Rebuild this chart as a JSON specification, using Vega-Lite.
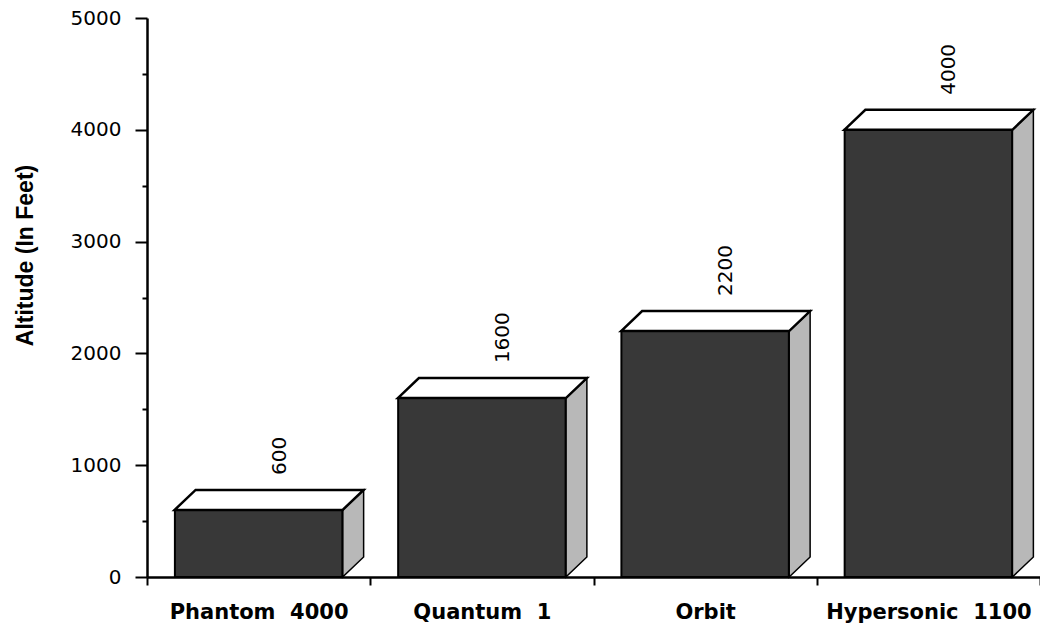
{
  "$schema": "https://vega.github.io/schema/vega-lite/v6.json",
  "width": 893,
  "height": 559,
  "autosize": {"type": "none"},
  "padding": {"left": 147, "top": 18, "right": 0, "bottom": 51},
  "background": "white",
  "config": {"view": {"stroke": null}, "font": "DejaVu Sans"},
  "data": {
    "values": [
      {"aircraft": "Phantom \u00a04000", "altitude": 600},
      {"aircraft": "Quantum \u00a01", "altitude": 1600},
      {"aircraft": "Orbit", "altitude": 2200},
      {"aircraft": "Hypersonic \u00a01100", "altitude": 4000}
    ]
  },
  "encoding": {
    "x": {
      "field": "aircraft",
      "type": "nominal",
      "sort": null,
      "scale": {"paddingInner": 0, "paddingOuter": 0},
      "axis": {
        "title": null,
        "labelAngle": 0,
        "labelFont": "DejaVu Sans",
        "labelFontWeight": "bold",
        "labelFontSize": 21,
        "labelColor": "black",
        "labelPadding": 16,
        "labelOverlap": false,
        "labelBound": false,
        "labelLimit": 0,
        "tickBand": "extent",
        "tickSize": 8,
        "tickWidth": 2,
        "tickColor": "black",
        "domainColor": "black",
        "domainWidth": 2.5
      }
    },
    "y": {
      "field": "altitude",
      "type": "quantitative",
      "scale": {"domain": [0, 5000], "nice": false},
      "axis": {
        "values": [0, 500, 1000, 1500, 2000, 2500, 3000, 3500, 4000, 4500, 5000],
        "format": "d",
        "labelExpr": "datum.value % 1000 === 0 ? datum.label : ''",
        "tickSize": {"condition": {"test": "datum.value % 1000 === 0", "value": 12}, "value": 5},
        "tickWidth": 2,
        "tickColor": "black",
        "domainColor": "black",
        "domainWidth": 2.5,
        "grid": false,
        "labelFont": "DejaVu Sans",
        "labelFontSize": 20,
        "labelColor": "black",
        "labelPadding": 14,
        "title": "Altitude (In Feet)",
        "titleFont": "Liberation Sans",
        "titleFontSize": 23,
        "titleFontWeight": "bold",
        "titleColor": "black",
        "titleAngle": 270,
        "titleX": -115,
        "titleY": 237,
        "titleAlign": "center",
        "titleBaseline": "alphabetic"
      }
    }
  },
  "layer": [
    {
      "mark": {
        "type": "point",
        "shape": {"expr": "'M84,0L105,-20L105,' + (height*datum.altitude/5000-20) + 'L84,' + (height*datum.altitude/5000) + 'Z'"},
        "size": 4,
        "filled": true,
        "fill": "#b8b8b8",
        "stroke": "black",
        "strokeWidth": 1.5,
        "opacity": 1
      }
    },
    {
      "mark": {
        "type": "bar",
        "width": {"band": 0.75},
        "fill": "#383838",
        "stroke": "black",
        "strokeWidth": 2
      }
    },
    {
      "mark": {
        "type": "point",
        "shape": "M-84,0L-63,-20L105,-20L84,0Z",
        "size": 4,
        "filled": true,
        "fill": "white",
        "stroke": "black",
        "strokeWidth": 2.5,
        "opacity": 1
      }
    },
    {
      "mark": {
        "type": "text",
        "angle": 270,
        "align": "left",
        "baseline": "middle",
        "xOffset": 21,
        "yOffset": -35,
        "font": "DejaVu Sans",
        "fontSize": 20,
        "fill": "black"
      },
      "encoding": {
        "text": {"field": "altitude", "type": "quantitative", "format": "d"}
      }
    }
  ]
}
